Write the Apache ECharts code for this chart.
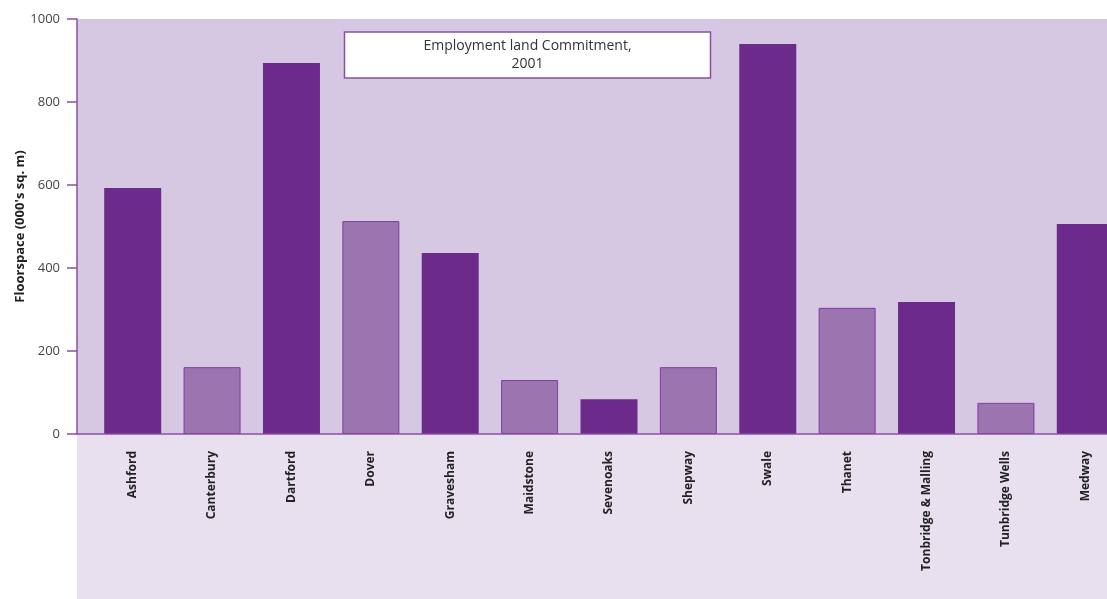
<!DOCTYPE html>
<html><head><meta charset="utf-8">
<script src="https://cdn.jsdelivr.net/npm/echarts@6/dist/echarts.min.js"></script>
<style>html,body{margin:0;padding:0;background:#fff}#c{width:1107px;height:599px}</style>
</head><body><div id="c"></div>
<script>
const categories = ["Ashford","Canterbury","Dartford","Dover","Gravesham","Maidstone","Sevenoaks","Shepway","Swale","Thanet","Tonbridge & Malling","Tunbridge Wells","Medway"];
const values = [593, 161, 894, 513, 436, 130, 84, 161, 940, 304, 318, 75, 506];
const yTicks = [0, 200, 400, 600, 800, 1000];
const titleLines = ["Employment land Commitment,", "2001"];
const yName = "Floorspace (000's sq. m)";

const dark = '#6c2a8a', light = '#9b74b0', axisCol = '#8a4fa6';
const chart = echarts.init(document.getElementById('c'));
chart.setOption({
  animation: false,
  textStyle: { fontFamily: 'Open Sans' },
  title: {
    text: titleLines.map(s => '{a|' + s + '}').join('\n'),
    left: 344, top: 30,
    padding: [7, 71.5, 7, 71.5],
    backgroundColor: '#fff', borderColor: axisCol, borderWidth: 1.5,
    textStyle: {
      rich: { a: { fontSize: 14, fontWeight: 'normal', color: '#333', lineHeight: 18, width: 224, align: 'center' } }
    }
  },
  graphic: [
    { type: 'rect', z: -1, silent: true, shape: { x: 77, y: 19, width: 1040, height: 415 }, style: { fill: '#d6c8e2' } },
    { type: 'rect', z: -1, silent: true, shape: { x: 77, y: 434, width: 1040, height: 170 }, style: { fill: '#e8e0ef' } },
    { type: 'line', z: 5, silent: true, shape: { x1: 77, y1: 434, x2: 1107, y2: 434 }, style: { stroke: axisCol, lineWidth: 1.5 } }
  ],
  grid: { left: 93, top: 19, width: 1032, height: 415, containLabel: false, outerBoundsMode: 'none' },
  xAxis: {
    type: 'category', data: categories,
    axisLine: { show: false },
    axisTick: { show: false },
    axisLabel: { rotate: 90, interval: 0, margin: 17, fontSize: 12, fontWeight: 'bold', color: '#222' }
  },
  yAxis: {
    type: 'value', min: yTicks[0], max: yTicks[yTicks.length - 1], interval: 200, offset: 16,
    name: yName, nameLocation: 'middle', nameGap: 50, nameRotate: 90, nameMoveOverlap: false,
    nameTextStyle: { fontSize: 13, fontWeight: 'bold', color: '#222' },
    axisLine: { show: true, lineStyle: { color: axisCol, width: 1.5 } },
    axisTick: { show: true, length: 10, lineStyle: { color: axisCol, width: 1.5 } },
    axisLabel: { margin: 17, fontSize: 13, color: '#444', formatter: v => String(v) },
    splitLine: { show: false }
  },
  series: [{
    type: 'bar', barWidth: 57,
    data: values.map((v, i) => ({
      value: v,
      itemStyle: i % 2 === 0 ? { color: dark } : { color: light, borderColor: '#7d3f9a', borderWidth: 1 }
    }))
  }]
});
</script></body></html>
